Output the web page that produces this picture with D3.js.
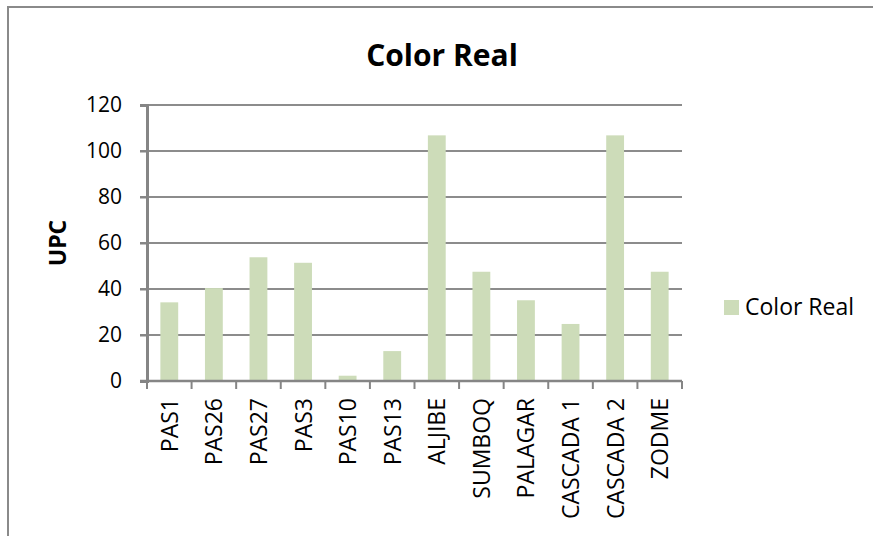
<!DOCTYPE html>
<html>
<head>
<meta charset="utf-8">
<script src="https://cdn.jsdelivr.net/npm/d3@7"></script>
<style>
  body { margin: 0; background: #fff; }
  svg { display: block; font-family: "Open Sans", "Noto Sans", sans-serif; }
</style>
</head>
<body>
<div id="chart-container"></div>
<script>
// Chart data
const categories = ["PAS1", "PAS26", "PAS27", "PAS3", "PAS10", "PAS13", "ALJIBE", "SUMBOQ", "PALAGAR", "CASCADA 1", "CASCADA 2", "ZODME"];
const colorReal = [34.2, 40.4, 53.8, 51.4, 2.3, 13, 106.8, 47.5, 35.1, 24.8, 106.8, 47.5];
const yTicks = [0, 20, 40, 60, 80, 100, 120];
const seriesName = "Color Real";

function drawChart() {
  const width = 873;
  const height = 536;
  const plot = { left: 147, right: 682, top: 105, bottom: 381 };

  const svg = d3
    .create("svg")
    .attr("width", width)
    .attr("height", height);

  document.getElementById("chart-container").appendChild(svg.node());

  // Outer frame of the chart
  svg.append("path")
    .attr("d", `M8,${height} V7 H${width}`)
    .attr("fill", "none")
    .attr("stroke", "#8a8a8a")
    .attr("stroke-width", 2);

  const x = d3.scaleBand()
    .domain(categories)
    .range([plot.left, plot.right])
    .paddingInner(0.6)
    .paddingOuter(0.3);

  const y = d3.scaleLinear()
    .domain([0, 120])
    .range([plot.bottom, plot.top]);

  // Gridlines
  svg.append("g")
    .selectAll("line")
    .data(yTicks.filter((d) => d > 0))
    .join("line")
    .attr("x1", plot.left - 7)
    .attr("x2", plot.right)
    .attr("y1", (d) => y(d))
    .attr("y2", (d) => y(d))
    .attr("stroke", "#8c8c8c")
    .attr("stroke-width", 2);

  // Bars
  svg.append("g")
    .selectAll("rect")
    .data(categories)
    .join("rect")
    .attr("x", (d) => x(d))
    .attr("width", x.bandwidth())
    .attr("y", (d, i) => y(colorReal[i]))
    .attr("height", (d, i) => y(0) - y(colorReal[i]))
    .attr("fill", "#cddcb9");

  // Y axis
  const yAxis = svg.append("g")
    .attr("transform", `translate(${plot.left},0)`)
    .call(d3.axisLeft(y).tickValues(yTicks).tickSize(7).tickPadding(18));
  yAxis.select(".domain").attr("stroke", "#858585").attr("stroke-width", 3);
  yAxis.selectAll(".tick line").attr("stroke", "#858585").attr("stroke-width", 2);
  yAxis.selectAll("text")
    .attr("font-size", 21)
    .attr("fill", "#000")
    .attr("font-family", "Open Sans, sans-serif");

  // X axis: category boundary ticks
  const boundaries = d3.range(categories.length + 1).map((i) => plot.left + i * (plot.right - plot.left) / categories.length);
  const xg = svg.append("g");
  xg.append("line")
    .attr("x1", plot.left - 7)
    .attr("x2", plot.right)
    .attr("y1", plot.bottom)
    .attr("y2", plot.bottom)
    .attr("stroke", "#858585")
    .attr("stroke-width", 2.5);
  xg.selectAll("line.tick")
    .data(boundaries)
    .join("line")
    .attr("class", "tick")
    .attr("x1", (d) => d)
    .attr("x2", (d) => d)
    .attr("y1", plot.bottom)
    .attr("y2", plot.bottom + 8)
    .attr("stroke", "#858585")
    .attr("stroke-width", 2);

  // X labels, rotated
  xg.selectAll("text")
    .data(categories)
    .join("text")
    .attr("transform", (d) => `translate(${x(d) + x.bandwidth() / 2 + 8.5},${plot.bottom + 17}) rotate(-90)`)
    .attr("text-anchor", "end")
    .attr("font-size", 23)
    .attr("fill", "#000")
    .text((d) => d);

  // Title
  svg.append("text")
    .attr("x", 442)
    .attr("y", 66)
    .attr("text-anchor", "middle")
    .attr("font-size", 30)
    .attr("font-weight", "bold")
    .attr("fill", "#000")
    .text(seriesName);

  // Y axis title
  svg.append("text")
    .attr("transform", "translate(66,243) rotate(-90)")
    .attr("text-anchor", "middle")
    .attr("font-size", 23)
    .attr("font-weight", "bold")
    .attr("fill", "#000")
    .text("UPC");

  // Legend
  const legend = svg.append("g").attr("transform", "translate(724,300)");
  legend.append("rect")
    .attr("width", 15)
    .attr("height", 15)
    .attr("fill", "#cddcb9");
  legend.append("text")
    .attr("x", 21)
    .attr("y", 15)
    .attr("font-size", 23)
    .attr("fill", "#000")
    .text(seriesName);
}

drawChart();
</script>
</body>
</html>
